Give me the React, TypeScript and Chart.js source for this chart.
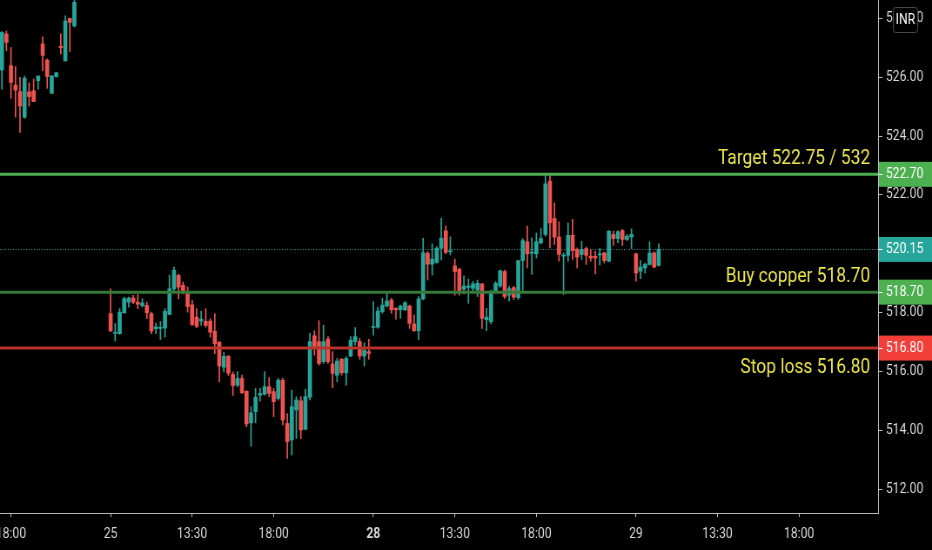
import React, { useEffect, useRef } from 'react';
import { Chart, registerables } from 'chart.js';

Chart.register(...registerables);

// 15-minute slots counted from 25th 09:00 (slot 0)
const slots = [
  -24, -23, -22, -21, -20, -19, -18, -17, -16, -15, -14, -13, -12, -11, -10, -9, -8,
  0, 1, 2, 3, 4, 5, 6, 7, 8, 9, 10, 11, 12, 13, 14, 15, 16, 17, 18, 19,
  20, 21, 22, 23, 24, 25, 26, 27, 28, 29, 30, 31, 32, 33, 34, 35, 36, 37, 38, 39,
  40, 41, 42, 43, 44, 45, 46, 47, 48, 49, 50, 51, 52, 53, 54, 55, 56, 57,
  58, 59, 60, 61, 62, 63, 64, 65, 66, 67, 68, 69, 70, 71, 72, 73, 74, 75, 76, 77,
  78, 79, 80, 81, 82, 83, 84, 85, 86, 87, 88, 89, 90, 91, 92, 93, 94, 95, 96, 97,
  98, 99, 100, 101, 102, 103, 104, 105, 106, 107, 108, 109, 110, 111, 112, 113, 114, 115,
  116, 117, 118, 119, 120, 121,
];

const opens = [
  526.24, 527.47, 526.39, 525.73, 525.51, 524.64, 525.50, 525.54, 525.88, 527.13, 526.58, 525.45, 526.02, 527.05, 526.55, 528.00, 527.74,
  517.97, 517.30, 517.29, 518.00, 518.36, 518.50, 518.36, 518.24, 518.25, 517.97,
  517.46, 517.47, 517.48, 517.94, 518.81, 519.27, 518.93, 518.72, 518.27, 517.85,
  517.72, 517.71, 517.72, 517.37, 517.00, 516.15, 516.52, 515.91, 515.54, 515.77,
  515.34, 514.26, 514.64, 515.20, 515.23, 515.49, 515.32, 515.09, 515.71, 514.24,
  513.68, 514.70, 515.01, 514.04, 515.13, 517.22, 517.02, 516.34, 517.11, 516.26,
  515.88, 516.42, 515.96, 516.53, 517.02, 517.02, 516.53, 516.68,
  517.50, 517.51, 518.04, 518.23, 518.43, 518.16, 518.10, 518.10, 518.23, 517.62,
  517.39, 518.47, 520.02, 519.65, 519.71, 520.19, 520.78, 520.07, 519.59, 519.48,
  518.80, 518.86, 518.83, 518.77, 518.98, 517.76, 517.70, 518.72, 518.91, 519.40,
  518.60, 518.85, 518.51, 519.77, 520.41, 520.02, 520.00, 520.37, 520.66, 522.47,
  521.20, 520.57, 519.92, 519.95, 520.63, 520.15, 519.98, 520.18, 519.92, 519.92,
  519.96, 520.03, 519.75, 520.66, 520.52, 520.79, 520.49, 520.57,
  520.00, 519.41, 519.52, 519.64, 520.03, 519.61,
];

const highs = [
  527.55, 527.57, 527.01, 526.36, 525.99, 526.04, 525.81, 525.94, 526.04, 527.37, 526.62, 526.06, 526.17, 527.47, 528.08, 528.00, 528.80,
  518.81, 517.63, 518.14, 518.53, 518.53, 518.59, 518.62, 518.48, 518.36, 518.02,
  517.65, 517.70, 518.14, 519.27, 519.55, 519.32, 519.04, 518.87, 518.42, 518.14,
  518.05, 518.14, 517.80, 517.97, 517.02, 516.66, 516.55, 515.99, 516.00, 515.88,
  515.34, 514.81, 515.43, 515.43, 516.00, 515.80, 515.43, 515.77, 515.77, 514.58,
  515.37, 515.15, 515.15, 515.40, 517.30, 517.39, 517.73, 517.58, 517.19, 516.68,
  516.45, 516.45, 516.51, 517.19, 517.50, 517.13, 516.98, 517.10,
  518.38, 518.19, 518.49, 518.68, 518.49, 518.16, 518.26, 518.38, 518.26, 517.93,
  518.55, 520.53, 520.08, 520.34, 520.25, 521.21, 520.95, 520.58, 519.82, 519.51,
  519.25, 519.14, 519.06, 519.11, 519.00, 518.15, 518.77, 519.06, 519.45, 519.45,
  518.90, 518.90, 519.77, 520.52, 520.94, 520.54, 520.71, 520.86, 522.69, 522.72,
  521.73, 521.09, 520.03, 521.05, 521.17, 520.20, 520.43, 520.23, 520.15, 520.09,
  520.18, 520.06, 520.79, 520.77, 520.79, 520.83, 520.66, 520.85,
  520.03, 519.77, 519.69, 520.41, 520.07, 520.34,
];

const lows = [
  525.59, 526.90, 525.28, 524.64, 524.12, 524.60, 525.02, 525.17, 525.59, 526.22, 525.62, 525.45, 526.00, 526.79, 526.55, 526.87, 527.70,
  517.37, 517.04, 517.27, 517.98, 518.19, 518.31, 518.14, 518.19, 517.80, 517.29,
  517.29, 517.09, 517.17, 517.94, 518.70, 518.47, 518.64, 518.02, 517.57, 517.49,
  517.57, 517.51, 517.17, 516.61, 515.65, 515.99, 515.87, 515.19, 515.49, 515.26,
  514.13, 513.47, 514.26, 515.00, 515.20, 515.15, 514.47, 515.03, 514.19, 513.05,
  513.17, 513.73, 513.73, 514.04, 515.04, 516.56, 516.22, 516.28, 516.28, 515.46,
  515.66, 515.88, 515.54, 516.51, 516.90, 516.42, 516.19, 516.42,
  517.24, 517.47, 517.98, 518.19, 517.98, 517.78, 517.81, 518.07, 517.47, 517.36,
  517.08, 518.44, 519.11, 519.28, 519.68, 519.79, 520.00, 519.96, 518.60, 518.60,
  518.64, 518.32, 518.66, 518.55, 517.47, 517.39, 517.62, 518.68, 518.86, 518.49,
  518.39, 518.45, 518.45, 518.73, 519.52, 519.30, 519.86, 520.34, 520.60, 520.20,
  520.32, 519.75, 518.62, 519.75, 519.81, 519.52, 519.81, 519.64, 519.75, 519.32,
  519.62, 519.69, 519.73, 520.29, 520.37, 520.29, 520.45, 520.18,
  519.07, 519.16, 519.35, 519.62, 519.52, 519.58,
];

const closes = [
  527.52, 527.18, 525.82, 525.56, 525.02, 525.96, 525.34, 525.17, 526.04, 526.74, 526.02, 526.04, 526.15, 527.00, 527.91, 527.86, 528.54,
  517.38, 517.33, 518.02, 518.48, 518.50, 518.36, 518.29, 518.33, 518.00, 517.38,
  517.52, 517.50, 518.05, 518.81, 519.44, 518.87, 518.74, 518.21, 517.60, 517.54,
  517.78, 517.57, 517.34, 516.95, 516.19, 516.52, 515.95, 515.53, 515.77, 515.28,
  514.22, 514.60, 515.13, 515.26, 515.49, 515.26, 514.98, 515.71, 514.36, 513.62,
  514.81, 515.04, 514.02, 515.15, 517.02, 516.79, 516.28, 517.02, 516.34, 515.94,
  516.36, 515.96, 516.45, 517.07, 517.19, 516.53, 516.73, 516.62,
  517.53, 518.06, 518.26, 518.40, 518.10, 518.10, 518.23, 518.34, 517.64, 517.39,
  518.47, 520.04, 519.65, 519.82, 520.19, 520.53, 520.05, 520.10, 519.40, 518.68,
  518.91, 518.91, 518.98, 519.00, 517.81, 517.85, 518.72, 519.00, 519.43, 518.55,
  518.82, 518.53, 519.77, 520.45, 520.00, 520.06, 520.41, 520.52, 522.38, 521.05,
  520.57, 519.98, 519.96, 520.63, 520.11, 519.89, 520.15, 519.95, 519.86, 519.86,
  520.00, 519.77, 520.77, 520.52, 520.75, 520.49, 520.60, 520.66,
  519.35, 519.55, 519.64, 520.03, 519.55, 520.15,
];

const xTickSlots = [-22, 0, 18, 36, 58, 76, 94, 116, 134, 152];
const xTickLabels = ['18:00', '25', '13:30', '18:00', '28', '13:30', '18:00', '29', '13:30', '18:00'];
const xBoldSlots = [58];
const yTickValues = [512, 514, 516, 518, 520, 522, 524, 526, 528];

const lastPrice = 520.15;
const levelValues = [522.7, 518.7, 516.8];
const levelTexts = ['Target 522.75 / 532', 'Buy copper 518.70', 'Stop loss 516.80'];
const axisBadgeValues = [522.7, 520.15, 518.7, 516.8];
const currencyLabel = 'INR';

// styles
const UP = '#26a69a';
const DOWN = '#ef5350';
const levelLineColors = ['#4caf50', '#357a38', '#b8322a'];
const levelTextSide = ['above', 'above', 'below'];
const badgeColors = ['#4caf50', '#26a69a', '#4caf50', '#f23f3a'];
const TEXT_YELLOW = '#ece54c';
const AXIS_COLOR = '#b8b8b8';
const LABEL_COLOR = '#d8d8d8';
const FONT = 'Roboto, "Open Sans", sans-serif';

const LOGICAL_W = 1071; // drawn wide, shown condensed to 932 px like the reference
const H = 550;

const overlayPlugin = {
  id: 'overlay',
  beforeDatasetsDraw(chart: any) {
    const { ctx, chartArea, scales } = chart;
    const y = scales.y.getPixelForValue(lastPrice);
    ctx.save();
    ctx.strokeStyle = UP;
    ctx.lineWidth = 1;
    ctx.setLineDash([1, 2]);
    ctx.beginPath();
    ctx.moveTo(chartArea.left, Math.round(y) + 0.5);
    ctx.lineTo(chartArea.right, Math.round(y) + 0.5);
    ctx.stroke();
    ctx.restore();
  },
  afterDatasetsDraw(chart: any) {
    const { ctx, chartArea, scales } = chart;
    ctx.save();
    levelValues.forEach((v, i) => {
      const y = scales.y.getPixelForValue(v);
      ctx.strokeStyle = levelLineColors[i];
      ctx.lineWidth = 3;
      ctx.beginPath();
      ctx.moveTo(chartArea.left, y);
      ctx.lineTo(chartArea.right, y);
      ctx.stroke();
      ctx.font = `20px ${FONT}`;
      ctx.fillStyle = TEXT_YELLOW;
      ctx.textAlign = 'right';
      ctx.textBaseline = 'alphabetic';
      const ty = levelTextSide[i] === 'above' ? y - 10 : y + 24.5;
      ctx.fillText(levelTexts[i], chartArea.right - 9, ty);
    });
    ctx.restore();
  },
  afterDraw(chart: any) {
    const { ctx, chartArea, scales } = chart;
    const left = chartArea.right;
    const right = chart.width;
    ctx.save();
    axisBadgeValues.forEach((v, i) => {
      const y = scales.y.getPixelForValue(v);
      ctx.fillStyle = badgeColors[i];
      ctx.fillRect(left + 1, y - 12.5, right - left - 1, 25);
      ctx.strokeStyle = '#ffffff';
      ctx.lineWidth = 1;
      ctx.beginPath();
      ctx.moveTo(left + 1, Math.round(y) + 0.5);
      ctx.lineTo(left + 5, Math.round(y) + 0.5);
      ctx.stroke();
      ctx.fillStyle = '#ffffff';
      ctx.font = `14px ${FONT}`;
      ctx.textAlign = 'left';
      ctx.textBaseline = 'middle';
      ctx.fillText(v.toFixed(2), left + 9, y + 0.5);
    });
    // currency badge
    const bx = 1026, by = 7, bw = 28, bh = 25;
    ctx.fillStyle = '#000000';
    ctx.strokeStyle = '#4a4a4a';
    ctx.lineWidth = 1;
    ctx.beginPath();
    (ctx as any).roundRect(bx + 0.5, by + 0.5, bw, bh, 3);
    ctx.fill();
    ctx.stroke();
    ctx.fillStyle = '#ffffff';
    ctx.font = `14px ${FONT}`;
    ctx.textAlign = 'center';
    ctx.textBaseline = 'middle';
    ctx.fillText(currencyLabel, bx + bw / 2 + 0.5, by + bh / 2 + 1);
    ctx.restore();
  },
};

export default function App() {
  const ref = useRef<HTMLCanvasElement>(null);

  useEffect(() => {
    document.body.style.margin = '0';
    document.body.style.background = '#000';
    const canvas = ref.current;
    if (!canvas) return;
    const colors = slots.map((_, i) => (closes[i] >= opens[i] ? UP : DOWN));

    const chart = new Chart(canvas, {
      type: 'bar',
      data: {
        datasets: [
          {
            label: 'wicks',
            data: slots.map((s, i) => ({ x: s, y: [lows[i], highs[i]] })) as any,
            backgroundColor: colors,
            barThickness: 1,
            grouped: false,
            order: 2,
          } as any,
          {
            label: 'bodies',
            data: slots.map((s, i) => ({ x: s, y: [opens[i], closes[i]] })) as any,
            backgroundColor: colors,
            barThickness: 4,
            minBarLength: 1,
            grouped: false,
            order: 1,
          } as any,
        ],
      },
      options: {
        responsive: false,
        devicePixelRatio: 1,
        animation: false,
        layout: { padding: 0 },
        plugins: {
          legend: { display: false },
          tooltip: { enabled: false },
        },
        events: [],
        scales: {
          x: {
            type: 'linear',
            min: -24.42,
            max: 169.44,
            offset: false,
            grid: {
              offset: false,
              drawOnChartArea: false,
              drawTicks: true,
              tickLength: 4,
              color: AXIS_COLOR,
              tickColor: AXIS_COLOR,
            },
            border: { display: true, color: AXIS_COLOR, width: 1 },
            ticks: {
              autoSkip: false,
              maxRotation: 0,
              padding: 9,
              color: LABEL_COLOR,
              font: (c: any) => ({
                family: FONT,
                size: 14,
                weight: c.tick && xBoldSlots.includes(c.tick.value) ? 'bold' : 'normal',
              }),
              callback: (_v: any, idx: number) => xTickLabels[idx],
            },
            afterBuildTicks: (s: any) => {
              s.ticks = xTickSlots.map((v) => ({ value: v }));
            },
            afterFit: (s: any) => {
              s.height = 37;
              s.paddingLeft = 0;
              s.paddingRight = 0;
            },
          } as any,
          y: {
            type: 'linear',
            position: 'right',
            min: 511.2,
            max: 528.62,
            grid: {
              offset: false,
              drawOnChartArea: false,
              drawTicks: true,
              tickLength: 5,
              color: AXIS_COLOR,
              tickColor: AXIS_COLOR,
            },
            border: { display: true, color: AXIS_COLOR, width: 1 },
            ticks: {
              padding: 4,
              color: LABEL_COLOR,
              font: { family: FONT, size: 14 },
              callback: (v: any) => Number(v).toFixed(2),
            },
            afterBuildTicks: (s: any) => {
              s.ticks = yTickValues.map((v) => ({ value: v }));
            },
            afterFit: (s: any) => {
              s.width = 62;
              s.paddingTop = 0;
              s.paddingBottom = 0;
            },
          } as any,
        },
      },
      plugins: [overlayPlugin],
    });

    return () => chart.destroy();
  }, []);

  return (
    <div style={{ position: 'fixed', left: 0, top: 0, width: 932, height: H, background: '#000', overflow: 'hidden' }}>
      <canvas
        ref={ref}
        width={LOGICAL_W}
        height={H}
        style={{ width: '932px', height: `${H}px`, display: 'block' }}
      />
    </div>
  );
}
